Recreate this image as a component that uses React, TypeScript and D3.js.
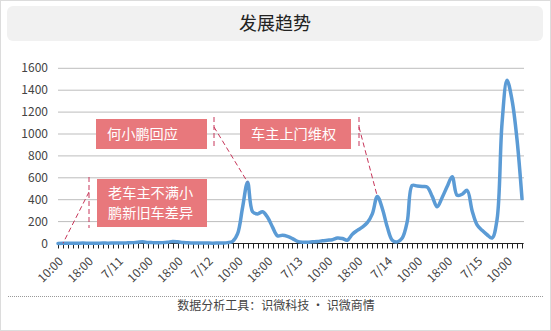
import React from "react";
import * as d3 from "d3";

const title = "发展趋势";
const footer = "数据分析工具：识微科技 · 识微商情";
const yTicks = [0, 200, 400, 600, 800, 1000, 1200, 1400, 1600];
const tickLabels = ["10:00", "18:00", "7/11", "10:00", "18:00", "7/12", "10:00", "18:00", "7/13", "10:00", "18:00", "7/14", "10:00", "18:00", "7/15", "10:00"];
const labelEvery = 6;
const values = [
  0, 2, 3, 2, 3, 4, 3, 2, 3, 4,
  3, 4, 5, 4, 6, 8, 12, 15, 10, 8,
  6, 8, 12, 18, 15, 10, 6, 5, 4, 5,
  4, 3, 4, 5, 8, 20, 90, 330, 560, 290,
  270, 290, 240, 150, 70, 75, 65, 45, 20, 12,
  12, 15, 18, 25, 30, 35, 50, 45, 30, 85,
  120, 150, 190, 270, 430, 320, 150, 30, 15, 50,
  200, 530, 525, 520, 515, 430, 335, 420, 520, 610,
  440, 450, 485, 300, 170, 120, 80, 50, 220, 1100,
  1490, 1310, 950, 410,
];
const annotations = [
  { lines: ["老车主不满小", "鹏新旧车差异"], index: 1 },
  { lines: ["何小鹏回应"], index: 38 },
  { lines: ["车主上门维权"], index: 64 },
];
// layout for annotation callouts: [boxX, boxY, boxW, boxH, vLineX, vTop, vBottom, joinY]
const annotationLayout = [
  [97, 179, 110, 48, 89, 177, 228, 192],
  [96, 119, 111, 30, 214, 117, 149, 127],
  [240, 119, 111, 30, 359, 117, 149, 127],
];

const W = 551;
const H = 331;
const FONT = "'Noto Sans CJK SC', 'Noto Sans', sans-serif";

export default function App() {
  const x = d3.scalePoint<number>().domain(d3.range(values.length)).range([58, 522]);
  const y = d3.scaleLinear().domain([0, 1600]).range([243.5, 68.3]);
  const line = d3
    .line<number>()
    .x((_, i) => x(i) as number)
    .y((d) => y(d))
    .curve(d3.curveCatmullRom.alpha(0.5));
  const axisY = 243.5;

  return (
    <div style={{ position: "absolute", left: 0, top: 0 }}>
      <svg width={W} height={H} style={{ display: "block", fontFamily: FONT }}>
        <rect x={0.5} y={0.5} width={W - 1} height={H - 1} fill="#fff" stroke="#dcdcdc" />
        <rect x={7} y={6} width={536} height={35} rx={6} fill="#f1f1f1" />
        <text x={275} y={30} textAnchor="middle" fontSize={18} fill="#222">
          {title}
        </text>

        {yTicks.map((t) => (
          <g key={t}>
            <line x1={58} x2={524} y1={y(t)} y2={y(t)} stroke="#bdbdbd" strokeWidth={1} />
            <text x={48} y={y(t) + 4} textAnchor="end" fontSize={12} fill="#444">
              {t}
            </text>
          </g>
        ))}

        <line x1={57.5} x2={523.5} y1={axisY} y2={axisY} stroke="#222" strokeWidth={1} />
        {values.map((_, i) => (
          <line key={i} x1={Math.round(x(i) as number) + 0.5} x2={Math.round(x(i) as number) + 0.5} y1={axisY} y2={axisY + 5} stroke="#222" strokeWidth={1} />
        ))}
        {tickLabels.map((lab, k) => {
          const px = (x(k * labelEvery) as number) + 6;
          const py = 262;
          return (
            <text key={k} x={px} y={py} textAnchor="end" fontSize={12} fill="#444" transform={`rotate(-45 ${px} ${py})`}>
              {lab}
            </text>
          );
        })}

        <path d={line(values) || ""} fill="none" stroke="#5b9bd5" strokeWidth={3.5} strokeLinejoin="round" strokeLinecap="round" />

        {annotations.map((a, k) => {
          const [bx, by, bw, bh, vx, vt, vb, jy] = annotationLayout[k];
          const tx = x(a.index) as number;
          const ty = y(values[a.index]);
          const fs = 14.2;
          const lh = 20.7;
          const cy = by + bh / 2;
          const firstY = cy - ((a.lines.length - 1) * lh) / 2 + 5;
          return (
            <g key={k}>
              <rect x={bx} y={by} width={bw} height={bh} fill="#e8787c" />
              {a.lines.map((l, j) => (
                <text key={j} x={bx + 11} y={firstY + j * lh} fontSize={fs} fill="#fff">
                  {l}
                </text>
              ))}
              <line x1={vx} x2={vx} y1={vt} y2={vb} stroke="#c7365a" strokeWidth={1} strokeDasharray="5,3" />
              <line x1={vx} x2={tx} y1={jy} y2={ty} stroke="#c7365a" strokeWidth={1} strokeDasharray="5,3" />
            </g>
          );
        })}

        <line x1={8} x2={543} y1={296.5} y2={296.5} stroke="#999" strokeWidth={1} strokeDasharray="1,1" />
        <text x={276} y={310} textAnchor="middle" fontSize={12} fill="#444">
          {footer}
        </text>
      </svg>
    </div>
  );
}
